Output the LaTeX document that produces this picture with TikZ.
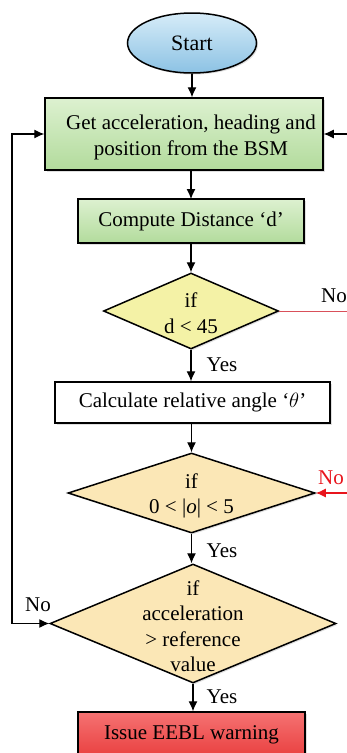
\documentclass[tikz,border=0pt]{standalone}
\usepackage{fontspec}
\setmainfont{Liberation Serif}
\usetikzlibrary{arrows.meta,shapes.geometric,shadows}
\definecolor{blueT}{HTML}{D6ECF8}
\definecolor{blueB}{HTML}{8CC2E4}
\definecolor{greenT}{HTML}{DDF1D0}
\definecolor{greenB}{HTML}{B2DB9C}
\definecolor{yelA}{HTML}{F4F2A6}
\definecolor{peach}{HTML}{FBE7B6}
\definecolor{redT}{HTML}{F57272}
\definecolor{redB}{HTML}{E83A3A}
\definecolor{noRed}{HTML}{E8141C}
\definecolor{lineRed}{HTML}{D9505A}
\tikzset{
  x=1pt, y=-1pt,
  shd/.style={drop shadow={opacity=0.25, shadow xshift=1.5pt, shadow yshift=-1.5pt}},
  box/.style={draw=black, line width=1.5pt, rectangle, inner sep=0pt, shd, align=center,
    font=\fontsize{21}{26}\selectfont},
  dia/.style={draw=black, line width=1.5pt, diamond, inner sep=0pt, shd},
  dtext/.style={align=center, font=\fontsize{21}{25.5}\selectfont, inner sep=0pt},
  lbl/.style={font=\fontsize{21}{24}\selectfont, inner sep=0pt},
  arr/.style={line width=1.1pt, -{Latex[length=10pt,width=9pt]}},
}
\begin{document}
\begin{tikzpicture}
\useasboundingbox (0,0) rectangle (347,753);
\begin{scope}
\clip (0,0) rectangle (347,753);
% nodes
\node[ellipse, draw=black, line width=1.5pt, shd, top color=blueT, bottom color=blueB,
  minimum width=129pt, minimum height=60pt, inner sep=0pt,
  font=\fontsize{22}{25}\selectfont] (start) at (192,43) {Start};
\node[box, top color=greenT, bottom color=greenB, minimum width=278pt, minimum height=72pt]
  (b1) at (184,134) {};
\node[dtext, font=\fontsize{21}{26}\selectfont] (b1t) at (191,137) {Get acceleration, heading and\\position from the BSM};
\node[box, top color=greenT, bottom color=greenB, minimum width=226pt, minimum height=44pt]
  (b2) at (191,221) {Compute Distance ‘d’};
\node[dia, fill=yelA, minimum width=175pt, minimum height=76pt] (d1) at (191,311) {};
\node[dtext] (d1t) at (191,313) {if\\d < 45};
\node[box, fill=white, minimum width=275pt, minimum height=41pt]
  (b3) at (192.5,402.5) {Calculate relative angle ‘$\theta$’};
\node[dia, fill=peach, minimum width=247pt, minimum height=80pt] (d2) at (191.5,493) {};
\node[dtext] (d2t) at (191.5,496) {if\\0 < |\textit{o}| < 5};
\node[dia, fill=peach, minimum width=286pt, minimum height=119pt] (d3) at (193,623.5) {};
\node[dtext] (d3t) at (193,626) {if\\acceleration\\> reference\\value};
\node[box, top color=redT, bottom color=redB, minimum width=227pt, minimum height=50pt]
  (b4) at (191.5,737) {};
\node[dtext] (b4t) at (191.5,735) {Issue EEBL warning};
% connectors
\draw[arr] (start.south) -- (start.south |- b1.north);
\draw[arr] (191,170) coordinate (b1s) -- (191,199) coordinate (b2n);
\draw[arr] (b2.south -| d1.north) -- (d1.north);
\draw[arr] (d1.south) -- (d1.south |- b3.north);
\draw[arr] (b3.south -| d2.north) -- (d2.north);
\draw[arr] (d2.south) -- (d2.south |- d3.north);
\draw[arr] (d3.south) -- (d3.south |- b4.north);
% right inputs
\coordinate (rin1) at (347,134);
\draw[arr] (rin1) -- (b1.east);
\coordinate (rout1) at (347,311);
\draw[lineRed, line width=0.8pt] (d1.east) -- (rout1);
\coordinate (rin2) at (347,493);
\draw[noRed, line width=1.3pt, -{Latex[length=10pt,width=9pt]}] (rin2) -- (d2.east);
% loop
\coordinate (lc1) at (12,623.5);
\coordinate (lc2) at (12,134);
\draw[line width=1.1pt, {Latex[length=10pt,width=9pt]}-{Latex[length=10pt,width=9pt]}]
  (d3.west) -- (lc1) -- (lc2) -- (b1.west);
% labels
\node[lbl] (y1) at (222,365) {Yes};
\node[lbl] (y2) at (222,551) {Yes};
\node[lbl] (y3) at (222,697) {Yes};
\node[lbl] (n1) at (334,296) {No};
\node[lbl, text=noRed] (n2) at (331,478) {No};
\node[lbl] (n3) at (38,605) {No};
\end{scope}
\end{tikzpicture}
\end{document}
